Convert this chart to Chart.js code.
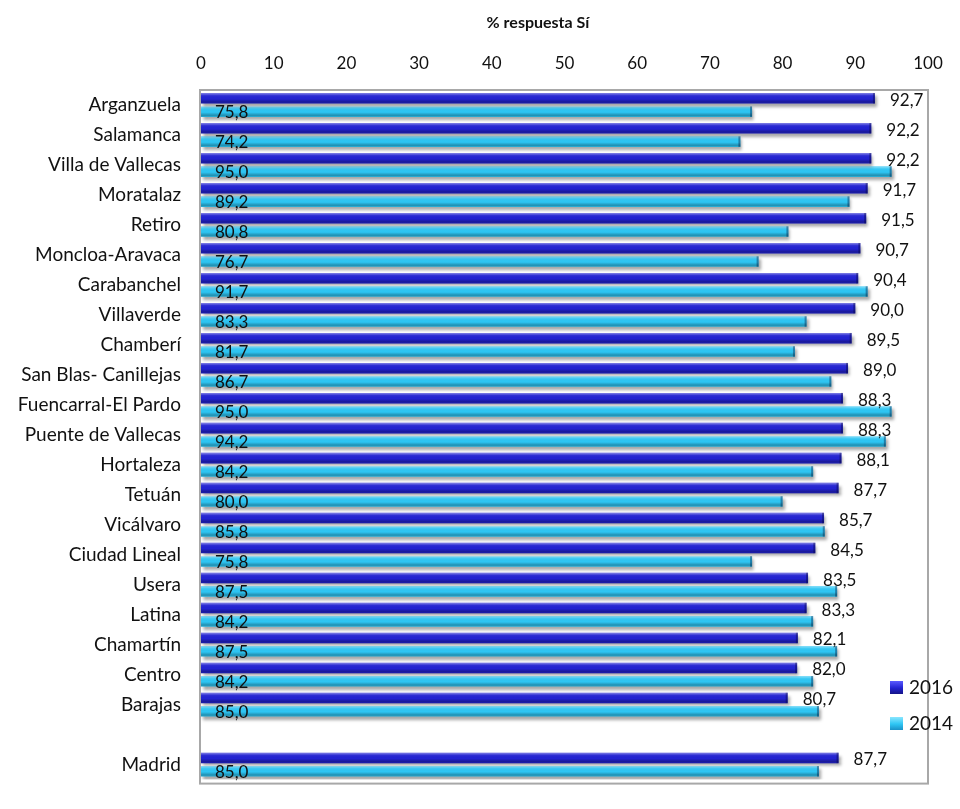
<!DOCTYPE html>
<html>
<head>
<meta charset="utf-8">
<script src="https://cdn.jsdelivr.net/npm/chart.js@4.4.0/dist/chart.umd.min.js"></script>
<style>
  html, body { margin: 0; padding: 0; background: #fff; overflow: hidden; }
  #contenedor { width: 960px; height: 811px; position: relative; }
</style>
</head>
<body>
<div id="contenedor"><canvas id="grafica"></canvas></div>
<script>
// --------------------- DATOS ---------------------
const distritos = [
  "Arganzuela", "Salamanca", "Villa de Vallecas", "Moratalaz", "Retiro",
  "Moncloa-Aravaca", "Carabanchel", "Villaverde", "Chamberí", "San Blas- Canillejas",
  "Fuencarral-El Pardo", "Puente de Vallecas", "Hortaleza", "Tetuán", "Vicálvaro",
  "Ciudad Lineal", "Usera", "Latina", "Chamartín", "Centro", "Barajas",
  "", "Madrid"
];
const valores2016 = [
  92.7, 92.2, 92.2, 91.7, 91.5, 90.7, 90.4, 90.0, 89.5, 89.0,
  88.3, 88.3, 88.1, 87.7, 85.7, 84.5, 83.5, 83.3, 82.1, 82.0, 80.7,
  null, 87.7
];
const valores2014 = [
  75.8, 74.2, 95.0, 89.2, 80.8, 76.7, 91.7, 83.3, 81.7, 86.7,
  95.0, 94.2, 84.2, 80.0, 85.8, 75.8, 87.5, 84.2, 87.5, 84.2, 85.0,
  null, 85.0
];
const series = ["2016", "2014"];
const ticksX = [0, 10, 20, 30, 40, 50, 60, 70, 80, 90, 100];
const tituloEje = "% respuesta Sí";

const FUENTE = "Lato, 'Open Sans', sans-serif";
const colores = ["#2323d2", "#2ec6f4"];

// formato con coma decimal
function fmt(v) {
  return v.toFixed(1).replace(".", ",");
}

// --------------------- PLUGIN DE ESTILO ---------------------
const estilo = {
  id: "estilo",
  beforeDatasetsDraw(chart) {
    const c = chart.ctx;
    c.save();
    c.shadowColor = "rgba(0,0,0,0.35)";
    c.shadowOffsetX = 2;
    c.shadowOffsetY = 3;
    c.shadowBlur = 3;
  },
  afterDatasetsDraw(chart) {
    const c = chart.ctx;
    c.restore();

    // brillo de cada barra
    chart.data.datasets.forEach((ds, i) => {
      const meta = chart.getDatasetMeta(i);
      meta.data.forEach((bar, j) => {
        if (ds.data[j] == null) return;
        const p = bar.getProps(["x", "y", "base", "height"], true);
        const top = p.y - p.height / 2;
        const g = c.createLinearGradient(0, top, 0, top + p.height);
        g.addColorStop(0, "rgba(255,255,255,0.45)");
        g.addColorStop(0.25, "rgba(255,255,255,0.05)");
        g.addColorStop(0.55, "rgba(0,0,0,0)");
        g.addColorStop(0.85, "rgba(0,0,0,0.28)");
        g.addColorStop(1, "rgba(0,0,0,0.12)");
        c.fillStyle = g;
        c.fillRect(p.base, top, p.x - p.base, p.height);
        // extremo oscuro
        c.fillStyle = "rgba(0,0,40,0.35)";
        c.fillRect(p.x - 2, top, 2, p.height);
      });
    });

    // etiquetas de valores
    c.save();
    c.fillStyle = "#111";
    c.font = "17px " + FUENTE;
    c.textBaseline = "middle";
    c.textAlign = "left";
    const m16 = chart.getDatasetMeta(0);
    const m14 = chart.getDatasetMeta(1);
    valores2016.forEach((v, j) => {
      if (v == null) return;
      const b = m16.data[j];
      c.fillText(fmt(v), b.x + 15, b.y + 2);
    });
    valores2014.forEach((v, j) => {
      if (v == null) return;
      const b = m14.data[j];
      c.fillText(fmt(v), b.base + 14, b.y + 1);
    });
    c.restore();
  },
  afterDraw(chart) {
    const c = chart.ctx;
    const a = chart.chartArea;
    c.save();
    // marco del area
    c.strokeStyle = "#a8a8a8";
    c.lineWidth = 2;
    c.strokeRect(a.left - 1, a.top, a.right - a.left + 1, a.bottom - a.top + 4);

    // titulo del eje
    c.fillStyle = "#111";
    c.font = "bold 16px " + FUENTE;
    c.textAlign = "center";
    c.textBaseline = "middle";
    c.fillText(tituloEje, 538, 23);

    // leyenda
    c.font = "19px " + FUENTE;
    c.textAlign = "left";
    series.forEach((s, i) => {
      const y = 688 + i * 36;
      const g = c.createLinearGradient(890, y - 7, 890, y + 7);
      g.addColorStop(0, i === 0 ? "#5a5aff" : "#8ae6ff");
      g.addColorStop(0.5, colores[i]);
      g.addColorStop(1, i === 0 ? "#12127a" : "#1788c0");
      c.fillStyle = g;
      c.fillRect(890, y - 7, 13, 13);
      c.fillStyle = "#111";
      c.fillText(s, 909, y);
    });
    c.restore();
  }
};

// --------------------- GRAFICA ---------------------
new Chart(document.getElementById("grafica"), {
  type: "bar",
  data: {
    labels: distritos,
    datasets: [
      {
        label: series[0],
        data: valores2016,
        backgroundColor: colores[0],
        categoryPercentage: 0.89,
        barPercentage: 0.79
      },
      {
        label: series[1],
        data: valores2014,
        backgroundColor: colores[1],
        categoryPercentage: 0.89,
        barPercentage: 0.79
      }
    ]
  },
  options: {
    indexAxis: "y",
    responsive: true,
    maintainAspectRatio: false,
    animation: false,
    layout: { padding: { left: 0, right: 32, top: 0, bottom: 0 } },
    plugins: {
      legend: { display: false },
      tooltip: { enabled: false }
    },
    scales: {
      x: {
        position: "top",
        min: 0,
        max: 100,
        afterBuildTicks: (s) => { s.ticks = ticksX.map(v => ({ value: v })); },
        afterFit: (s) => { s.height = 90; },
        grid: { display: false, drawTicks: false },
        border: { display: false },
        ticks: {
          padding: 16,
          color: "#111",
          font: { family: FUENTE, size: 17 }
        }
      },
      y: {
        afterFit: (s) => { s.width = 201; },
        grid: { display: false, drawTicks: false },
        border: { display: false },
        ticks: {
          padding: 20,
          autoSkip: false,
          color: "#111",
          font: { family: FUENTE, size: 19 }
        }
      }
    }
  },
  plugins: [estilo]
});
</script>
</body>
</html>
